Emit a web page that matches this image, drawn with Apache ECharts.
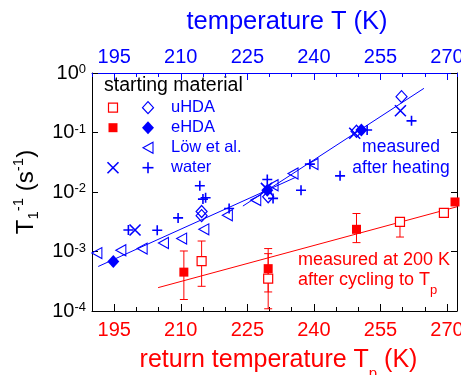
<!DOCTYPE html>
<html>
<head>
<meta charset="utf-8">
<script src="https://cdn.jsdelivr.net/npm/echarts@6/dist/echarts.min.js"></script>
<style>html,body{margin:0;padding:0;background:#fff;}#c{width:461px;height:375px;}</style>
</head>
<body>
<div id="c"></div>
<script>
// ---------- data ----------
const xTickLabels = [195, 210, 225, 240, 255, 270];

// blue (top axis: temperature T)
const uHDA_T = [214.7, 214.7, 229.7, 249.6, 259.75];
const uHDA_v = [4.0e-3, 4.7e-3, 8.3e-3, 0.105, 0.40];
const eHDA_T = [194.8, 229.5, 250.7];
const eHDA_v = [6.8e-4, 0.0107, 0.11];
const low_T = [191.1, 196.5, 201.3, 206.1, 210.2, 215.2, 220.5, 226.9, 230.8, 235.3, 239.8];
const low_v = [9.4e-4, 1.05e-3, 1.12e-3, 1.39e-3, 1.65e-3, 2.36e-3, 4.07e-3, 7.3e-3, 0.013, 0.0205, 0.0295];
const waterX_T = [199.7, 229.3, 249.2, 259.5];
const waterX_v = [2.3e-3, 0.0115, 0.097, 0.232];
const waterP_T = [198.2, 204.7, 209.4, 214.3, 215.0, 215.6, 220.9, 229.5, 230.8, 237.1, 239.1, 245.9, 252.0, 262.0];
const waterP_v = [2.3e-3, 2.27e-3, 3.67e-3, 0.0127, 7.6e-3, 8.0e-3, 5.27e-3, 0.0162, 7.8e-3, 0.0107, 0.0294, 0.0187, 0.11, 0.157];
const blueLineA_T = [191.4, 236];
const blueLineA_v = [5.6e-4, 0.0178];
const blueLineB_T = [224, 264.8];
const blueLineB_v = [5.8e-3, 0.552];

// red (bottom axis: return temperature Tp)
const eHDAp_T = [210.7, 229.7, 249.6, 271.8];
const eHDAp_v = [4.5e-4, 5.15e-4, 2.36e-3, 6.8e-3];
const eHDAp_lo = [1.56e-4, 2.09e-4, 1.41e-3, 6.8e-3];
const eHDAp_hi = [1.02e-3, 1.12e-3, 4.35e-3, 6.8e-3];
const uHDAp_T = [214.7, 229.7, 259.4, 269.3];
const uHDAp_v = [6.9e-4, 3.5e-4, 3.14e-3, 4.46e-3];
const uHDAp_lo = [2.6e-4, 1.09e-4, 1.75e-3, 4.1e-3];
const uHDAp_hi = [1.5e-3, 9.2e-4, 3.4e-3, 4.9e-3];
const redLine_T = [204.9, 272.25];
const redLine_v = [2.47e-4, 5.65e-3];

// ---------- build ----------
const BLUE = '#0000ff', RED = '#ff0000';
const FONT = 'Liberation Sans, Arial, sans-serif';
const zip = (a, b) => a.map((v, i) => [v, b[i]]);
const zip3 = (a, b, c) => a.map((v, i) => [v, b[i], c[i]]);

const P_X = 'path://M0,0L10,10M10,0L0,10';
const P_PLUS = 'path://M5,0L5,10M0,5L10,5';
const P_TRI = 'path://M0,5L10,0L10,10Z';

function errSeries(data) {
  return {
    type: 'custom', xAxisIndex: 0, yAxisIndex: 0, z: 2, silent: true,
    data: data,
    renderItem: function (params, api) {
      const x = api.value(0);
      const lo = api.coord([x, api.value(1)]);
      const hi = api.coord([x, api.value(2)]);
      const w = 4;
      const st = { stroke: RED, lineWidth: 1 };
      return { type: 'group', children: [
        { type: 'line', shape: { x1: lo[0], y1: lo[1], x2: hi[0], y2: hi[1] }, style: st },
        { type: 'line', shape: { x1: lo[0] - w, y1: lo[1], x2: lo[0] + w, y2: lo[1] }, style: st },
        { type: 'line', shape: { x1: hi[0] - w, y1: hi[1], x2: hi[0] + w, y2: hi[1] }, style: st }
      ]};
    }
  };
}

const xBase = { type: 'value', min: 190, max: 272.25, splitLine: { show: false } };

const option = {
  animation: false,
  backgroundColor: '#fff',
  textStyle: { fontFamily: FONT },
  grid: { left: 92, top: 73, width: 365, height: 238, containLabel: false, outerBoundsMode: 'none' },
  xAxis: [
    Object.assign({}, xBase, {
      position: 'bottom', interval: 5,
      axisLine: { show: true, onZero: false, lineStyle: { color: '#000', width: 1 } },
      axisTick: { inside: true, length: 4, lineStyle: { color: '#000' } },
      axisLabel: { color: RED, fontSize: 20, margin: 9, fontFamily: FONT,
        formatter: v => xTickLabels.includes(v) ? String(v) : '' },
      name: '{a|return temperature T}{p|p}{a| (K)}',
      nameLocation: 'middle', nameGap: 37,
      nameTextStyle: { padding: [0, 0, 0, 8], rich: {
        a: { fontSize: 25, color: RED, fontFamily: FONT, lineHeight: 27, verticalAlign: 'top' },
        p: { fontSize: 15, color: RED, fontFamily: FONT, lineHeight: 33, verticalAlign: 'bottom' }
      } }
    }),
    Object.assign({}, xBase, {
      position: 'top', interval: 5,
      axisLine: { show: true, onZero: false, lineStyle: { color: BLUE, width: 1 } },
      axisTick: { inside: true, length: 4, lineStyle: { color: BLUE } },
      axisLabel: { color: BLUE, fontSize: 20, margin: 6, fontFamily: FONT,
        formatter: v => xTickLabels.includes(v) ? String(v) : '' },
      name: 'temperature T (K)',
      nameLocation: 'middle', nameGap: 38,
      nameTextStyle: { color: BLUE, fontSize: 25.5, fontFamily: FONT, padding: [0, 0, 0, 25] }
    }),
    Object.assign({}, xBase, {
      position: 'bottom',
      axisLine: { show: false, onZero: false },
      axisTick: { inside: true, length: 7, customValues: xTickLabels, lineStyle: { color: '#000' } },
      axisLabel: { show: false }
    }),
    Object.assign({}, xBase, {
      position: 'top',
      axisLine: { show: false, onZero: false },
      axisTick: { inside: true, length: 7, customValues: xTickLabels, lineStyle: { color: BLUE } },
      axisLabel: { show: false }
    })
  ],
  yAxis: [
    {
      type: 'log', logBase: 10, min: 1e-4, max: 1, position: 'left',
      splitLine: { show: false },
      axisLine: { show: true, lineStyle: { color: '#000', width: 1 } },
      axisTick: { show: true, inside: true, length: 6, lineStyle: { color: '#000' } },
      axisLabel: {
        margin: 6,
        formatter: v => '{b|10}{s|' + Math.round(Math.log10(v)) + '}',
        rich: {
          b: { fontSize: 20, color: '#000', fontFamily: FONT, lineHeight: 20, verticalAlign: 'bottom' },
          s: { fontSize: 13, color: '#000', fontFamily: FONT, lineHeight: 15, verticalAlign: 'top' }
        }
      },
      name: '{a|T}{b|1}{c|-1}{a| (s}{c|-1}{a|)}',
      nameLocation: 'middle', nameRotate: 90, nameGap: 50,
      nameTextStyle: { rich: {
        a: { fontSize: 24, color: '#000', fontFamily: FONT, lineHeight: 30, verticalAlign: 'middle' },
        b: { fontSize: 15, color: '#000', fontFamily: FONT, lineHeight: 16, verticalAlign: 'bottom' },
        c: { fontSize: 15, color: '#000', fontFamily: FONT, lineHeight: 16, verticalAlign: 'top' }
      } }
    },
    {
      type: 'log', logBase: 10, min: 1e-4, max: 1, position: 'right',
      splitLine: { show: false },
      axisLine: { show: true, lineStyle: { color: '#000', width: 1 } },
      axisTick: { show: true, inside: true, length: 6, lineStyle: { color: '#000' } },
      axisLabel: { show: false }
    }
  ],
  series: [
    { type: 'line', xAxisIndex: 1, yAxisIndex: 0, data: zip(blueLineA_T, blueLineA_v), symbol: 'none', lineStyle: { color: BLUE, width: 1 }, z: 1 },
    { type: 'line', xAxisIndex: 1, yAxisIndex: 0, data: zip(blueLineB_T, blueLineB_v), symbol: 'none', lineStyle: { color: BLUE, width: 1 }, z: 1 },
    { type: 'line', xAxisIndex: 0, yAxisIndex: 0, data: zip(redLine_T, redLine_v), symbol: 'none', lineStyle: { color: RED, width: 1 }, z: 1 },
    errSeries(zip3(eHDAp_T, eHDAp_lo, eHDAp_hi)),
    errSeries(zip3(uHDAp_T, uHDAp_lo, uHDAp_hi)),
    { type: 'scatter', xAxisIndex: 0, yAxisIndex: 0, data: zip(uHDAp_T, uHDAp_v), symbol: 'rect', symbolSize: 9,
      itemStyle: { color: '#fff', borderColor: RED, borderWidth: 1.2, opacity: 1 }, z: 3 },
    { type: 'scatter', xAxisIndex: 0, yAxisIndex: 0, data: zip(eHDAp_T, eHDAp_v), symbol: 'rect', symbolSize: 9,
      itemStyle: { color: RED, opacity: 1 }, z: 3 },
    { type: 'scatter', xAxisIndex: 1, yAxisIndex: 0, data: zip(low_T, low_v), symbol: P_TRI, symbolSize: [10, 11],
      itemStyle: { color: 'rgba(0,0,0,0)', borderColor: BLUE, borderWidth: 1.1, opacity: 1 }, z: 3 },
    { type: 'scatter', xAxisIndex: 1, yAxisIndex: 0, data: zip(uHDA_T, uHDA_v), symbol: 'diamond', symbolSize: [11, 12],
      itemStyle: { color: 'rgba(0,0,0,0)', borderColor: BLUE, borderWidth: 1.2, opacity: 1 }, z: 3 },
    { type: 'scatter', xAxisIndex: 1, yAxisIndex: 0, data: zip(eHDA_T, eHDA_v), symbol: 'diamond', symbolSize: [12, 13],
      itemStyle: { color: BLUE, opacity: 1 }, z: 3 },
    { type: 'scatter', xAxisIndex: 1, yAxisIndex: 0, data: zip(waterX_T, waterX_v), symbol: P_X, symbolSize: 11,
      itemStyle: { color: 'rgba(0,0,0,0)', borderColor: BLUE, borderWidth: 1.6, opacity: 1 }, z: 3 },
    { type: 'scatter', xAxisIndex: 1, yAxisIndex: 0, data: zip(waterP_T, waterP_v), symbol: P_PLUS, symbolSize: 10,
      itemStyle: { color: 'rgba(0,0,0,0)', borderColor: BLUE, borderWidth: 1.6, opacity: 1 }, z: 3 }
  ],
  graphic: [
    { type: 'text', left: 104, top: 76, style: { text: 'starting material', fill: '#000', font: '19.5px ' + FONT } },
    // legend markers (red column)
    { type: 'rect', shape: { x: 108.5, y: 103.2, width: 9, height: 9 }, style: { fill: '#fff', stroke: RED, lineWidth: 1.2 } },
    { type: 'rect', shape: { x: 108.5, y: 123.2, width: 9, height: 9 }, style: { fill: RED } },
    { type: 'line', shape: { x1: 107.5, y1: 162.2, x2: 118.5, y2: 173.2 }, style: { stroke: BLUE, lineWidth: 1.6 } },
    { type: 'line', shape: { x1: 118.5, y1: 162.2, x2: 107.5, y2: 173.2 }, style: { stroke: BLUE, lineWidth: 1.6 } },
    // legend markers (blue column)
    { type: 'polygon', shape: { points: [[148, 101.7], [153.5, 107.7], [148, 113.7], [142.5, 107.7]] }, style: { fill: 'none', stroke: BLUE, lineWidth: 1.2 } },
    { type: 'polygon', shape: { points: [[148, 121.2], [154, 127.7], [148, 134.2], [142, 127.7]] }, style: { fill: BLUE } },
    { type: 'polygon', shape: { points: [[143, 147.7], [153, 142.2], [153, 153.2]] }, style: { fill: 'none', stroke: BLUE, lineWidth: 1.1 } },
    { type: 'line', shape: { x1: 148, y1: 162.2, x2: 148, y2: 173.2 }, style: { stroke: BLUE, lineWidth: 1.6 } },
    { type: 'line', shape: { x1: 142.5, y1: 167.7, x2: 153.5, y2: 167.7 }, style: { stroke: BLUE, lineWidth: 1.6 } },
    // legend texts
    { type: 'text', left: 171, top: 98.5, style: { text: 'uHDA', fill: BLUE, font: '16.5px ' + FONT } },
    { type: 'text', left: 171, top: 118.5, style: { text: 'eHDA', fill: BLUE, font: '16.5px ' + FONT } },
    { type: 'text', left: 171, top: 138.5, style: { text: 'Löw et al.', fill: BLUE, font: '16.5px ' + FONT } },
    { type: 'text', left: 171, top: 158.5, style: { text: 'water', fill: BLUE, font: '16.5px ' + FONT } },
    // annotations
    { type: 'text', x: 401, y: 147, style: { text: 'measured', fill: BLUE, font: '17.5px ' + FONT, textAlign: 'center', textVerticalAlign: 'middle' } },
    { type: 'text', x: 401, y: 168.5, style: { text: 'after heating', fill: BLUE, font: '17.5px ' + FONT, textAlign: 'center', textVerticalAlign: 'middle' } },
    { type: 'text', x: 298, y: 260, style: { text: 'measured at 200 K', fill: RED, font: '18px ' + FONT, textAlign: 'left', textVerticalAlign: 'middle' } },
    { type: 'text', x: 298, y: 271, style: {
        text: '{a|after cycling to T}{p|p}', textAlign: 'left', textVerticalAlign: 'top',
        rich: {
          a: { fontSize: 18, fill: RED, fontFamily: FONT, lineHeight: 21, verticalAlign: 'top' },
          p: { fontSize: 13, fill: RED, fontFamily: FONT, lineHeight: 26, verticalAlign: 'bottom' }
        } } }
  ]
};

const chart = echarts.init(document.getElementById('c'), null, { renderer: 'canvas' });
chart.setOption(option);
</script>
</body>
</html>
